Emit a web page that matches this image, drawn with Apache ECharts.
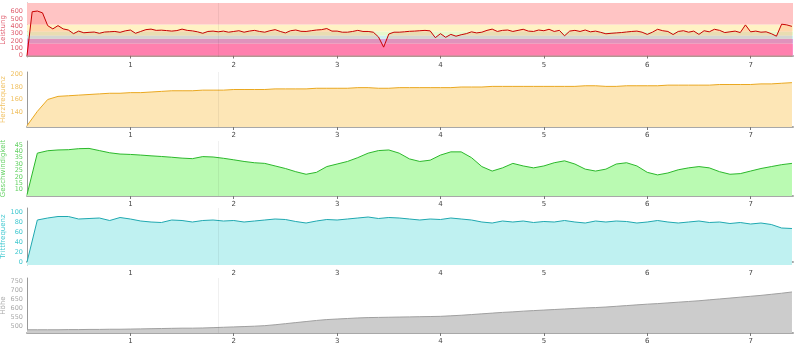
<!DOCTYPE html>
<html><head><meta charset="utf-8">
<script src="https://cdn.jsdelivr.net/npm/echarts@6/dist/echarts.min.js"></script>
<style>html,body{margin:0;padding:0;background:#fff}#chart{width:800px;height:347px}</style>
</head><body><div id="chart"></div><script>
// Distance axis
const X_MAX = 7.41;
const xTickLabels = [1, 2, 3, 4, 5, 6, 7];
const cursorPos = 1.855;

// Leistung (W), sampled every 0.05
const powerStep = 0.05;
const power = [
  0, 600, 610, 585, 410, 365, 410, 365, 350, 300,
  335, 312, 318, 322, 305, 322, 326, 330, 318, 338,
  350, 305, 330, 355, 362, 345, 348, 342, 335, 342,
  362, 345, 338, 325, 305, 330, 335, 325, 335, 320,
  330, 340, 320, 335, 345, 330, 320, 340, 355, 330,
  310, 340, 350, 332, 330, 340, 350, 355, 370, 335,
  335, 320, 320, 330, 345, 330, 330, 320, 255, 115,
  295, 320, 320, 325, 332, 335, 340, 345, 338, 245,
  300, 250, 290, 265, 285, 300, 325, 310, 320, 345,
  362, 330, 345, 350, 330, 345, 360, 335, 330, 350,
  340, 360, 330, 345, 270, 335, 345, 330, 350, 325,
  335, 318, 298, 305, 310, 315, 323, 330, 335, 320,
  290, 320, 360, 340, 330, 288, 330, 340, 320, 335,
  290, 340, 325, 360, 345, 315, 325, 335, 315, 420,
  325, 335, 320, 325, 300, 265, 430, 420, 400
];

// Other channels, sampled every 0.1
const sampleStep = 0.1;
const heartRate = [
  118, 141, 160, 165, 166, 167, 168, 169, 170, 170,
  171, 171, 172, 173, 174, 174, 174, 175, 175, 175,
  176, 176, 176, 176, 177, 177, 177, 177, 178, 178,
  178, 178, 179, 179, 178, 178, 179, 179, 179, 179,
  179, 179, 180, 180, 180, 181, 181, 181, 181, 181,
  181, 181, 181, 181, 182, 182, 181, 181, 182, 182,
  182, 182, 183, 183, 183, 183, 183, 184, 184, 184,
  184, 185, 185, 186, 187
];
const speed = [
  6, 38.5, 40.4, 41, 41.2, 42, 42.2, 40.5, 38.8, 37.8,
  37.5, 37, 36.4, 35.9, 35.3, 34.6, 34.2, 35.8, 35.5, 34.5,
  33.3, 32, 31, 30.5, 28.5, 26.5, 24, 22, 23.5, 28,
  30, 32, 35, 38.5, 40.5, 41, 38.5, 34, 32, 33,
  37, 39.5, 39.5, 35, 28, 24.5, 27, 30.5, 28.5, 27,
  28.5, 31, 32.5, 30, 26, 24.5, 26, 30, 31, 28.5,
  23.5, 21.5, 23, 25.5, 27, 28, 27, 24, 22, 22.5,
  24.5, 26.5, 28, 29.5, 30.5
];
const cadence = [
  0, 84, 88, 91, 91, 86, 87, 88, 83, 89,
  86, 82, 80, 79, 84, 83, 80, 83, 84, 82,
  83, 80, 82, 84, 86, 85, 81, 78, 82, 85,
  84, 86, 88, 90, 87, 89, 88, 86, 84, 86,
  85, 88, 86, 84, 80, 78, 82, 80, 82, 79,
  81, 80, 83, 80, 78, 82, 80, 82, 81, 78,
  80, 83, 80, 78, 80, 82, 79, 80, 77, 79,
  76, 78, 75, 68, 67
];
const altitude = [
  478, 478, 478, 478, 479, 479, 480, 480, 481, 481,
  482, 483, 484, 485, 486, 487, 487, 488, 490, 492,
  494, 496, 498, 501, 506, 512, 518, 524, 530, 535,
  538, 541, 544, 546, 547, 548, 549, 550, 551, 552,
  553, 556, 559, 563, 567, 571, 575, 578, 582, 585,
  588, 591, 594, 597, 600, 602, 605, 609, 613, 617,
  621, 624, 628, 632, 636, 640, 645, 650, 655, 660,
  665, 670, 676, 682, 689
];

// Tick labels
const powerTicks = [0, 100, 200, 300, 400, 500, 600];
const hrTicks = [140, 160, 180, 200];
const speedTicks = [10, 15, 20, 25, 30, 35, 40, 45];
const cadenceTicks = [0, 20, 40, 60, 80, 100];
const altitudeTicks = [500, 550, 600, 650, 700, 750];

// Power zone boundaries (W)
const powerZoneBounds = [0, 165, 230, 275, 330, 425, 720];

// ---- styling / layout ----
const zoneColors = ['#ff8ec8', '#dba4d8', '#cdf0f0', '#e6f8cc', '#fff2c4', '#ffc4c4'];
const FONT = 'DejaVu Sans';

function pairs(values, step) {
  return values.map((v, i) => [+(i * step).toFixed(3), v]);
}

const panels = [
  { name: 'Leistung', data: pairs(power, powerStep), ticks: powerTicks, min: -20, max: 720, interval: 10,
    top: 3, height: 54, line: '#c80000', fill: 'rgba(255,40,0,0.13)', label: '#e06070' },
  { name: 'Herzfrequenz', data: pairs(heartRate, sampleStep), ticks: hrTicks, min: 116, max: 204, interval: 4,
    top: 72, height: 55, line: '#eaa820', fill: '#fde6b6', label: '#f0c060' },
  { name: 'Geschwindigkeit', data: pairs(speed, sampleStep), ticks: speedTicks, min: 5, max: 48, interval: 1,
    top: 141, height: 55, line: '#2cb82c', fill: '#bafab2', label: '#60d060' },
  { name: 'Trittfrequenz', data: pairs(cadence, sampleStep), ticks: cadenceTicks, min: -6, max: 108, interval: 2,
    top: 208, height: 57, line: '#1fa8b0', fill: '#bff1f1', label: '#40c8d0' },
  { name: 'Höhe', data: pairs(altitude, sampleStep), ticks: altitudeTicks, min: 460, max: 767, interval: 1,
    top: 278, height: 55, line: '#a0a0a0', fill: '#cccccc', label: '#aaaaaa' }
];

const grid = [], xAxis = [], yAxis = [], series = [];
panels.forEach((p, i) => {
  grid.push({ left: 27, right: 7, top: p.top, height: p.height,
    containLabel: false, outerBoundsMode: 'none' });
  xAxis.push({
    type: 'value', gridIndex: i, min: 0, max: X_MAX, interval: 1,
    axisLine: { show: true, lineStyle: { color: '#a8a8a8', width: 2 } },
    axisTick: { show: true, length: 3, lineStyle: { color: '#777' },
      customValues: xTickLabels },
    axisLabel: { fontSize: 7, color: '#444', fontFamily: FONT, margin: 5,
      customValues: xTickLabels,
      formatter: v => xTickLabels.includes(v) ? String(v) : '' },
    splitLine: { show: false }
  });
  yAxis.push({
    type: 'value', gridIndex: i, min: p.min, max: p.max, interval: p.interval,
    name: p.name, nameLocation: 'middle', nameRotate: 90, nameGap: 20,
    nameMoveOverlap: false,
    nameTextStyle: { fontSize: 7, color: p.label, fontFamily: FONT },
    axisLine: { show: true, lineStyle: { color: '#999', width: 1 } },
    axisTick: { show: false },
    axisLabel: { fontSize: 6.5, color: p.label, fontFamily: FONT, margin: 4,
      hideOverlap: false,
      formatter: v => p.ticks.includes(v) ? String(v) : '' },
    splitLine: { show: false }
  });
  if (i === 0) {
    const bands = [];
    for (let k = 0; k < zoneColors.length; k++) {
      bands.push([{ yAxis: powerZoneBounds[k], itemStyle: { color: zoneColors[k] } },
                  { yAxis: powerZoneBounds[k + 1] }]);
    }
    series.push({
      type: 'line', xAxisIndex: 0, yAxisIndex: 0, data: [], z: 1, silent: true,
      markArea: { silent: true, data: bands }
    });
  }
  series.push({
    type: 'line', xAxisIndex: i, yAxisIndex: i, data: p.data, z: 3,
    showSymbol: false, smooth: false, silent: true,
    lineStyle: { color: p.line, width: 1 },
    areaStyle: { color: p.fill, opacity: 1, origin: 'start' },
    markLine: { silent: true, symbol: ['none', 'none'], label: { show: false },
      lineStyle: { color: 'rgba(0,0,0,0.06)', type: 'solid', width: 1 },
      data: [{ xAxis: cursorPos }] }
  });
});

const chart = echarts.init(document.getElementById('chart'), null, { renderer: 'canvas' });
chart.setOption({ animation: false, grid, xAxis, yAxis, series });
</script></body></html>
